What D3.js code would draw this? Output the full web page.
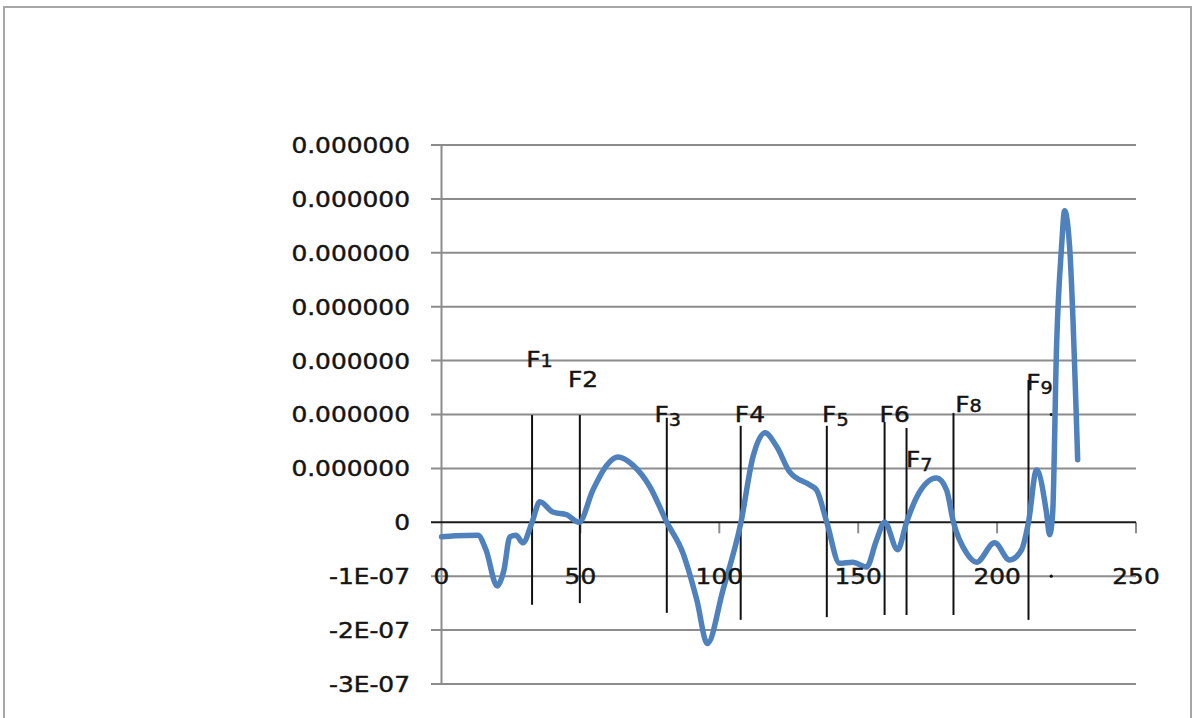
<!DOCTYPE html>
<html>
<head>
<meta charset="utf-8">
<script src="https://cdn.jsdelivr.net/npm/d3@7"></script>
<style>
  html, body { margin: 0; padding: 0; background: #fff; }
  svg { display: block; }
  text { font-family: "DejaVu Sans", Verdana, sans-serif; fill: #141414; stroke: #141414; stroke-width: 0.45px; }
</style>
</head>
<body>
<svg id="chart"></svg>
<script>
// x values (sample index) and y values of the traced curve
const xs = [0, 4.9, 13.1, 16, 20, 22.5, 24.6, 26.8, 29.3, 32.6, 35.4, 40.1, 45.1, 49.5,
  54.5, 59.5, 63.5, 68.9, 75, 81.1, 86.9, 91.9, 95.7, 101.3, 107.8, 112.1, 116.4, 120.7,
  125.4, 132.6, 135, 138.7, 143.3, 148, 153, 156.6, 159.5, 164.2, 167.4, 171, 178.2,
  181.8, 184.3, 189, 192.6, 199.1, 204.5, 208.8, 211.3, 214.2, 217.8, 218.9, 220,
  221.4, 223.2, 224.3, 226.1, 229];
const ys = [-0.27e-7, -0.25e-7, -0.24e-7, -0.51e-7, -1.18e-7, -0.88e-7, -0.27e-7, -0.24e-7,
  -0.38e-7, 0, 0.38e-7, 0.19e-7, 0.14e-7, 0, 0.60e-7, 1.06e-7, 1.21e-7, 1.06e-7, 0.66e-7,
  0, -0.57e-7, -1.44e-7, -2.25e-7, -1.26e-7, 0, 1.21e-7, 1.66e-7, 1.40e-7, 0.93e-7,
  0.69e-7, 0.60e-7, 0, -0.76e-7, -0.74e-7, -0.83e-7, -0.33e-7, 0, -0.51e-7, 0, 0.46e-7,
  0.82e-7, 0.60e-7, 0, -0.57e-7, -0.74e-7, -0.38e-7, -0.70e-7, -0.51e-7, 0, 0.97e-7,
  0.17e-7, -0.23e-7, 0.17e-7, 3.26e-7, 5.11e-7, 5.78e-7, 5.11e-7, 1.16e-7];

const xTicks = [0, 50, 100, 150, 200, 250];
const yTicks = [-3e-7, -2e-7, -1e-7, 0, 1e-7, 2e-7, 3e-7, 4e-7, 5e-7, 6e-7, 7e-7];
const yTickLabels = ["-3E-07", "-2E-07", "-1E-07", "0", "0.000000", "0.000000",
  "0.000000", "0.000000", "0.000000", "0.000000", "0.000000"];

// marker lines F1..F9
const markerNames = ["F1", "F2", "F3", "F4", "F5", "F6", "F7", "F8", "F9"];
const markerX = [32.6, 49.8, 81.1, 107.7, 138.7, 159.5, 167.4, 184.3, 211.3];
const markerTop = [1.99e-7, 1.99e-7, 1.94e-7, 1.79e-7, 1.79e-7, 1.86e-7, 1.75e-7, 2.03e-7, 2.64e-7];
const markerBottom = [-1.53e-7, -1.50e-7, -1.68e-7, -1.81e-7, -1.76e-7, -1.72e-7, -1.72e-7, -1.72e-7, -1.81e-7];
const labelX = [30.5, 45.5, 76.7, 105.6, 137, 157.7, 167.2, 184.9, 210.5];
const labelY = [2.88e-7, 2.51e-7, 1.86e-7, 1.86e-7, 1.86e-7, 1.86e-7, 1.03e-7, 2.05e-7, 2.45e-7];

// stray dots near F9
const dotX = 219.5;
const dotY = [2e-7, 0, -1e-7];

const width = 1195, height = 718;
const stretch = 1.13;

const svg = d3.select('#chart').attr('width', width).attr('height', height);

// outer frame
svg.append('rect')
  .attr('x', 4).attr('y', 7)
  .attr('width', 1187).attr('height', 730)
  .attr('fill', 'none')
  .attr('stroke', '#a6a6a6')
  .attr('stroke-width', 2);

const x = d3.scaleLinear().domain([0, 250]).range([441.5, 1136]);
const y = d3.scaleLinear().domain([-3e-7, 7e-7]).range([684, 145]);

// gridlines
svg.append('g')
  .selectAll('line')
  .data(yTicks.filter(d => d !== 0))
  .enter()
  .append('line')
  .attr('x1', 431).attr('x2', x(250))
  .attr('y1', d => y(d)).attr('y2', d => y(d))
  .attr('stroke', '#8c8c8c')
  .attr('stroke-width', 2);

// y axis line
svg.append('line')
  .attr('x1', x(0)).attr('x2', x(0))
  .attr('y1', y(7e-7)).attr('y2', y(-3e-7))
  .attr('stroke', '#8c8c8c')
  .attr('stroke-width', 2);

// y labels
svg.append('g')
  .selectAll('text')
  .data(yTicks)
  .enter()
  .append('text')
  .attr('transform', d => `translate(410,${y(d)}) scale(${stretch},1)`)
  .attr('text-anchor', 'end')
  .attr('dy', '0.36em')
  .style('font-size', '22px')
  .text((d, i) => yTickLabels[i]);

// x tick marks on zero line
svg.append('g')
  .selectAll('line')
  .data(xTicks.filter(d => d !== 0))
  .enter()
  .append('line')
  .attr('x1', d => x(d)).attr('x2', d => x(d))
  .attr('y1', y(0)).attr('y2', y(0) + 11)
  .attr('stroke', '#8c8c8c')
  .attr('stroke-width', 2);

// zero line
svg.append('line')
  .attr('x1', 431).attr('x2', x(250))
  .attr('y1', y(0)).attr('y2', y(0))
  .attr('stroke', '#1a1a1a')
  .attr('stroke-width', 2);

// marker lines
svg.append('g')
  .selectAll('line')
  .data(markerNames)
  .enter()
  .append('line')
  .attr('x1', (d, i) => x(markerX[i])).attr('x2', (d, i) => x(markerX[i]))
  .attr('y1', (d, i) => y(markerTop[i])).attr('y2', (d, i) => y(markerBottom[i]))
  .attr('stroke', '#111')
  .attr('stroke-width', 2);

// dots
svg.append('g')
  .selectAll('circle')
  .data(dotY)
  .enter()
  .append('circle')
  .attr('cx', x(dotX)).attr('cy', d => y(d))
  .attr('r', 1.6)
  .attr('fill', '#111');

// curve
const line = d3.line()
  .x((d, i) => x(xs[i]))
  .y(d => y(d))
  .curve(d3.curveMonotoneX);

svg.append('path')
  .datum(ys)
  .attr('d', line)
  .attr('fill', 'none')
  .attr('stroke', '#4f81bd')
  .attr('stroke-width', 5.5)
  .attr('stroke-linejoin', 'round')
  .attr('stroke-linecap', 'round');

// x labels (drawn over the -1E-07 gridline like the original)
svg.append('g')
  .selectAll('text')
  .data(xTicks)
  .enter()
  .append('text')
  .attr('transform', d => `translate(${x(d)},${y(-1e-7)}) scale(${stretch},1)`)
  .attr('text-anchor', 'middle')
  .attr('dy', '0.36em')
  .style('font-size', '22px')
  .text(d => d);

// marker labels, old-style looking digits for some
const smallDigits = '135789';
const lowDigits = '3579';
const labels = svg.append('g')
  .selectAll('text')
  .data(markerNames)
  .enter()
  .append('text')
  .attr('transform', (d, i) => `translate(${x(labelX[i])},${y(labelY[i])}) scale(${stretch},1)`)
  .style('font-size', '22px');

labels.append('tspan').text(d => d[0]);
labels.append('tspan')
  .style('font-size', d => smallDigits.includes(d[1]) ? '17px' : '22px')
  .attr('dy', d => lowDigits.includes(d[1]) ? 4 : 0)
  .text(d => d.slice(1));
</script>
</body>
</html>
